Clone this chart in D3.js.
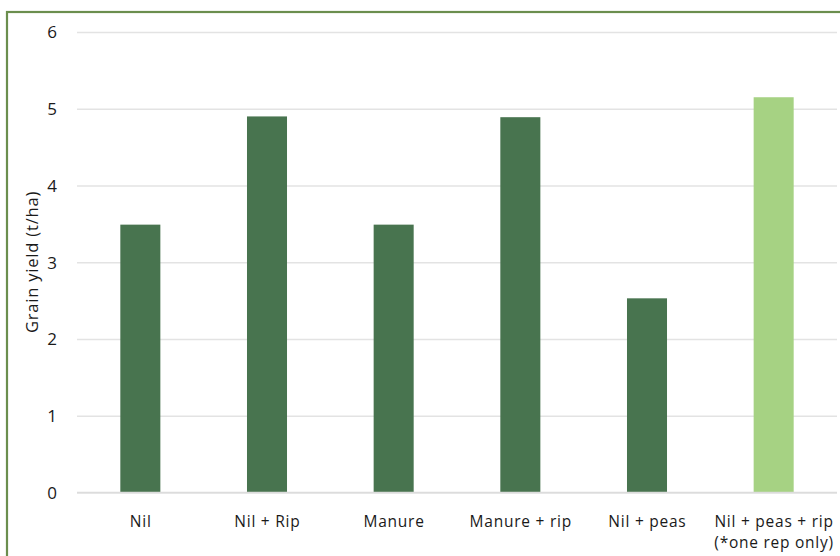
<!DOCTYPE html>
<html>
<head>
<meta charset="utf-8">
<script src="https://cdn.jsdelivr.net/npm/d3@7"></script>
<style>
  html, body { margin: 0; padding: 0; background: #fff; }
  svg text { font-family: "Open Sans", Lato, sans-serif; fill: #1a1a1a; }
</style>
</head>
<body>
<svg id="chart" width="840" height="556"></svg>
<script>
// Grain yield by treatment
const categories = ["Nil", "Nil + Rip", "Manure", "Manure + rip", "Nil + peas", "Nil + peas + rip\n(*one rep only)"];
const yields = [3.49, 4.90, 3.49, 4.89, 2.53, 5.15];
const highlighted = [false, false, false, false, false, true];
const yTicks = [0, 1, 2, 3, 4, 5, 6];

const svg = d3.select("#chart");
const W = 840, H = 556;
const plot = { left: 77, right: 837, top: 32, bottom: 492.5 };

// Outer frame
svg.append("rect")
  .attr("x", 7).attr("y", 12)
  .attr("width", W + 10).attr("height", H + 10)
  .attr("fill", "#fff")
  .attr("stroke", "#6b8e4e")
  .attr("stroke-width", 2.2);

const x = d3.scaleBand()
  .domain(categories)
  .range([plot.left, plot.right])
  .paddingInner(0.684)
  .paddingOuter(0.342);

const y = d3.scaleLinear()
  .domain([0, 6])
  .range([plot.bottom, plot.top]);

// Gridlines and y tick labels
const yAxis = d3.axisLeft(y).tickValues(yTicks).tickSize(-(plot.right - plot.left)).tickPadding(20).tickFormat(d3.format("d"));
const gy = svg.append("g")
  .attr("transform", `translate(${plot.left},0)`)
  .call(yAxis);
gy.select(".domain").remove();
gy.selectAll(".tick line").attr("stroke", "#e3e3e3").attr("stroke-width", 1.3);
gy.selectAll(".tick text").attr("font-size", 17).attr("dy", "0.35em");

// Bars
svg.append("g").selectAll("rect")
  .data(categories)
  .join("rect")
  .attr("x", d => x(d))
  .attr("width", x.bandwidth())
  .attr("y", (d, i) => y(yields[i]))
  .attr("height", (d, i) => y(0) - y(yields[i]))
  .attr("fill", (d, i) => highlighted[i] ? "#a6d283" : "#48744f");

// Baseline over the bars
svg.append("line")
  .attr("x1", plot.left).attr("x2", plot.right)
  .attr("y1", y(0)).attr("y2", y(0))
  .attr("stroke", "#dcdcdc").attr("stroke-width", 1.3);

// X category labels (one text per line)
const xAxis = d3.axisBottom(x).tickSize(0).tickFormat("");
const gx = svg.append("g")
  .attr("transform", `translate(0,${plot.bottom})`)
  .call(xAxis);
gx.select(".domain").remove();
gx.selectAll(".tick").each(function(d) {
  const lines = d.split("\n");
  lines.forEach((ln, k) => {
    d3.select(this).append("text")
      .attr("text-anchor", "middle")
      .attr("font-size", 15.5)
      .attr("letter-spacing", 0.75)
      .attr("x", 0.4)
      .attr("y", 34.5 + k * 21)
      .text(ln);
  });
});

// Y axis title
svg.append("text")
  .attr("transform", `translate(38,262) rotate(-90)`)
  .attr("text-anchor", "middle")
  .attr("font-size", 16.5)
  .attr("letter-spacing", 0.8)
  .text("Grain yield (t/ha)");
</script>
</body>
</html>
